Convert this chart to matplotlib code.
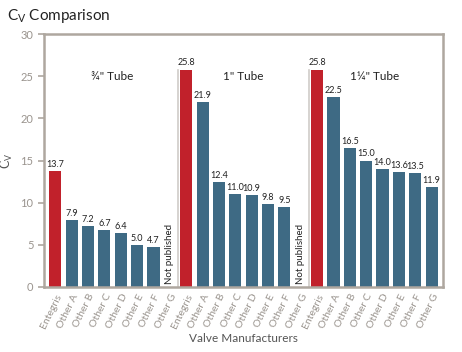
import numpy as np
import matplotlib
matplotlib.use("Agg")
from matplotlib import pyplot as plt

plt.rcParams['font.family'] = ['Lato', 'DejaVu Sans']

makers = ['Entegris', 'Other A', 'Other B', 'Other C', 'Other D', 'Other E', 'Other F', 'Other G']
groups = ['\u00be" Tube', '1" Tube', '1\u00bc" Tube']
cv_34 = [13.7, 7.9, 7.2, 6.7, 6.4, 5.0, 4.7, None]
cv_1 = [25.8, 21.9, 12.4, 11.0, 10.9, 9.8, 9.5, None]
cv_114 = [25.8, 22.5, 16.5, 15.0, 14.0, 13.6, 13.5, 11.9]

red = '#c1212b'
blue = '#3e6a84'
grey = '#aea79f'
txt_grey = '#9a948e'

fig = plt.figure(figsize=(4.62, 3.52), dpi=100)
ax = fig.add_axes([0.095, 0.185, 0.864, 0.718])

labels = makers * 3
n = len(makers)
for g, vals in enumerate([cv_34, cv_1, cv_114]):
    for i, v in enumerate(vals):
        x = g * n + i
        if v is None:
            ax.text(x, 0.4, 'Not published', rotation=90, ha='center', va='bottom',
                    fontsize=7, color='#222222')
            continue
        ax.bar(x, v, width=0.74, color=red if i == 0 else blue)
        ax.text(x, v + 0.25, f'{v:.1f}', ha='center', va='bottom', fontsize=6.5, color='#222222')
    ax.text(g * n + 3.5, 25, groups[g], ha='center', va='center', fontsize=8.5, color='#222222')
    if g > 0:
        ax.plot([g * n - 0.5] * 2, [0, 25.8], color='#d0ccc8', lw=1.2)

ax.set_xlim(-0.7, 3 * n - 0.3)
ax.set_ylim(0, 30)
ax.set_yticks(np.arange(0, 31, 5))
ax.set_xticks(np.arange(3 * n))
ax.set_xticklabels(labels, rotation=64, ha='right', rotation_mode='anchor',
                   fontsize=7.5, color=txt_grey)
ax.tick_params(axis='y', labelsize=8, colors=grey, labelcolor=txt_grey, length=4, width=1.2)
ax.tick_params(axis='x', length=0, pad=4)
for s in ax.spines.values():
    s.set_color(grey)
    s.set_linewidth(1.8)

ax.set_ylabel('C$_\\mathregular{V}$', fontsize=9, color='#555555', labelpad=4)
ax.set_xlabel('Valve Manufacturers', fontsize=8.5, color='#555555', labelpad=2)
fig.text(0.015, 0.955, 'C$_\\mathregular{V}$ Comparison', fontsize=11, color='#222222', va='center')

fig.savefig('out.png', dpi=100)
